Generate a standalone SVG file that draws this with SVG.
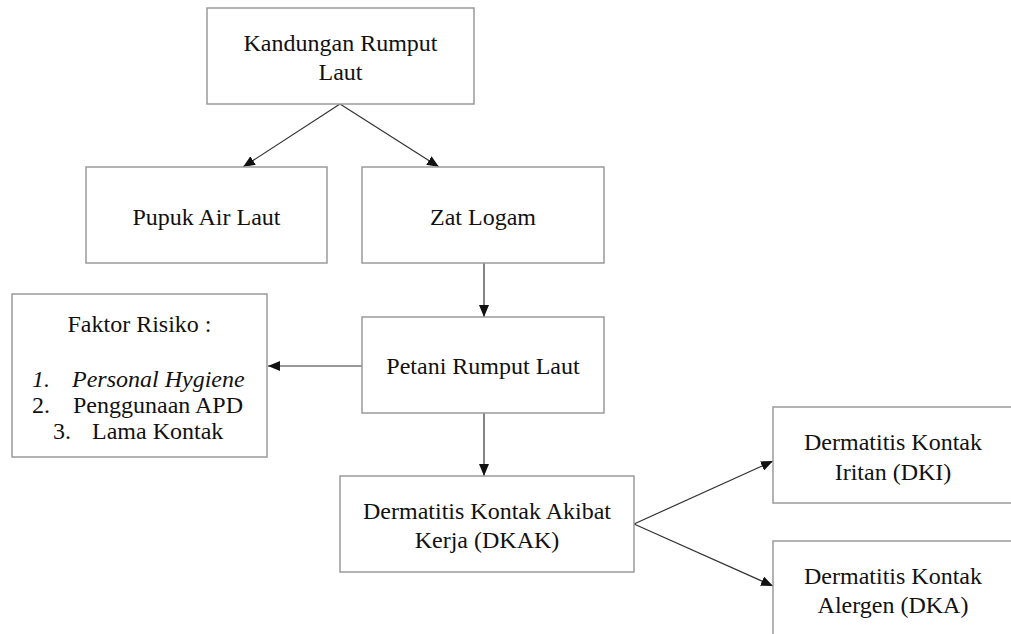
<svg xmlns="http://www.w3.org/2000/svg" width="1011" height="634" viewBox="0 0 1011 634">
<defs>
<marker id="ah" markerUnits="userSpaceOnUse" markerWidth="12" markerHeight="10" viewBox="0 0 12 10" refX="12" refY="5" orient="auto">
<path d="M0,0 L12,5 L0,10 Z" fill="#111"/>
</marker>
</defs>
<rect width="1011" height="634" fill="#fff"/>
<g id="connectors" stroke="#333" stroke-width="1.2" fill="none" marker-end="url(#ah)">
<line x1="340" y1="104" x2="243" y2="167"/>
<line x1="340" y1="104" x2="439" y2="167"/>
<line x1="484" y1="263" x2="484" y2="317"/>
<line x1="362" y1="366" x2="268" y2="366"/>
<line x1="484" y1="413" x2="484" y2="476"/>
<line x1="634" y1="524" x2="773" y2="461"/>
<line x1="634" y1="524" x2="773" y2="586"/>
</g>
<g id="nodes" font-family="Liberation Serif" font-size="24">
<g id="kandungan">
<rect x="207" y="8" width="267" height="96" fill="#fff" stroke="#9a9a9a" stroke-width="1.5"/>
<text fill="#111" text-anchor="middle" x="340.5" y="51">Kandungan Rumput</text>
<text fill="#111" text-anchor="middle" x="340.5" y="80">Laut</text>
</g>
<g id="pupuk">
<rect x="86" y="167" width="241" height="96" fill="#fff" stroke="#9a9a9a" stroke-width="1.5"/>
<text fill="#111" text-anchor="middle" x="206.5" y="225">Pupuk Air Laut</text>
</g>
<g id="zat">
<rect x="362" y="167" width="242" height="96" fill="#fff" stroke="#9a9a9a" stroke-width="1.5"/>
<text fill="#111" text-anchor="middle" x="483" y="225">Zat Logam</text>
</g>
<g id="petani">
<rect x="362" y="317" width="242" height="96" fill="#fff" stroke="#9a9a9a" stroke-width="1.5"/>
<text fill="#111" text-anchor="middle" x="483" y="374">Petani Rumput Laut</text>
</g>
<g id="faktor">
<rect x="12" y="294" width="255" height="163" fill="#fff" stroke="#9a9a9a" stroke-width="1.5"/>
<text fill="#111" text-anchor="middle" x="139.5" y="332">Faktor Risiko :</text>
<text fill="#111" x="32" y="387" font-style="italic">1.</text>
<text fill="#111" x="72" y="387" font-style="italic">Personal Hygiene</text>
<text fill="#111" x="32" y="413">2.</text>
<text fill="#111" x="73" y="413">Penggunaan APD</text>
<text fill="#111" x="53" y="439">3.</text>
<text fill="#111" x="92" y="439">Lama Kontak</text>
</g>
<g id="dkak">
<rect x="340" y="476" width="294" height="96" fill="#fff" stroke="#9a9a9a" stroke-width="1.5"/>
<text fill="#111" text-anchor="middle" x="487" y="519">Dermatitis Kontak Akibat</text>
<text fill="#111" text-anchor="middle" x="487" y="548">Kerja (DKAK)</text>
</g>
<g id="dki">
<rect x="773" y="407" width="246" height="96" fill="#fff" stroke="#9a9a9a" stroke-width="1.5"/>
<text fill="#111" text-anchor="middle" x="893" y="450">Dermatitis Kontak</text>
<text fill="#111" text-anchor="middle" x="893" y="480">Iritan (DKI)</text>
</g>
<g id="dka">
<rect x="773" y="541" width="246" height="100" fill="#fff" stroke="#9a9a9a" stroke-width="1.5"/>
<text fill="#111" text-anchor="middle" x="893" y="584">Dermatitis Kontak</text>
<text fill="#111" text-anchor="middle" x="893" y="613">Alergen (DKA)</text>
</g>
</g>
</svg>
